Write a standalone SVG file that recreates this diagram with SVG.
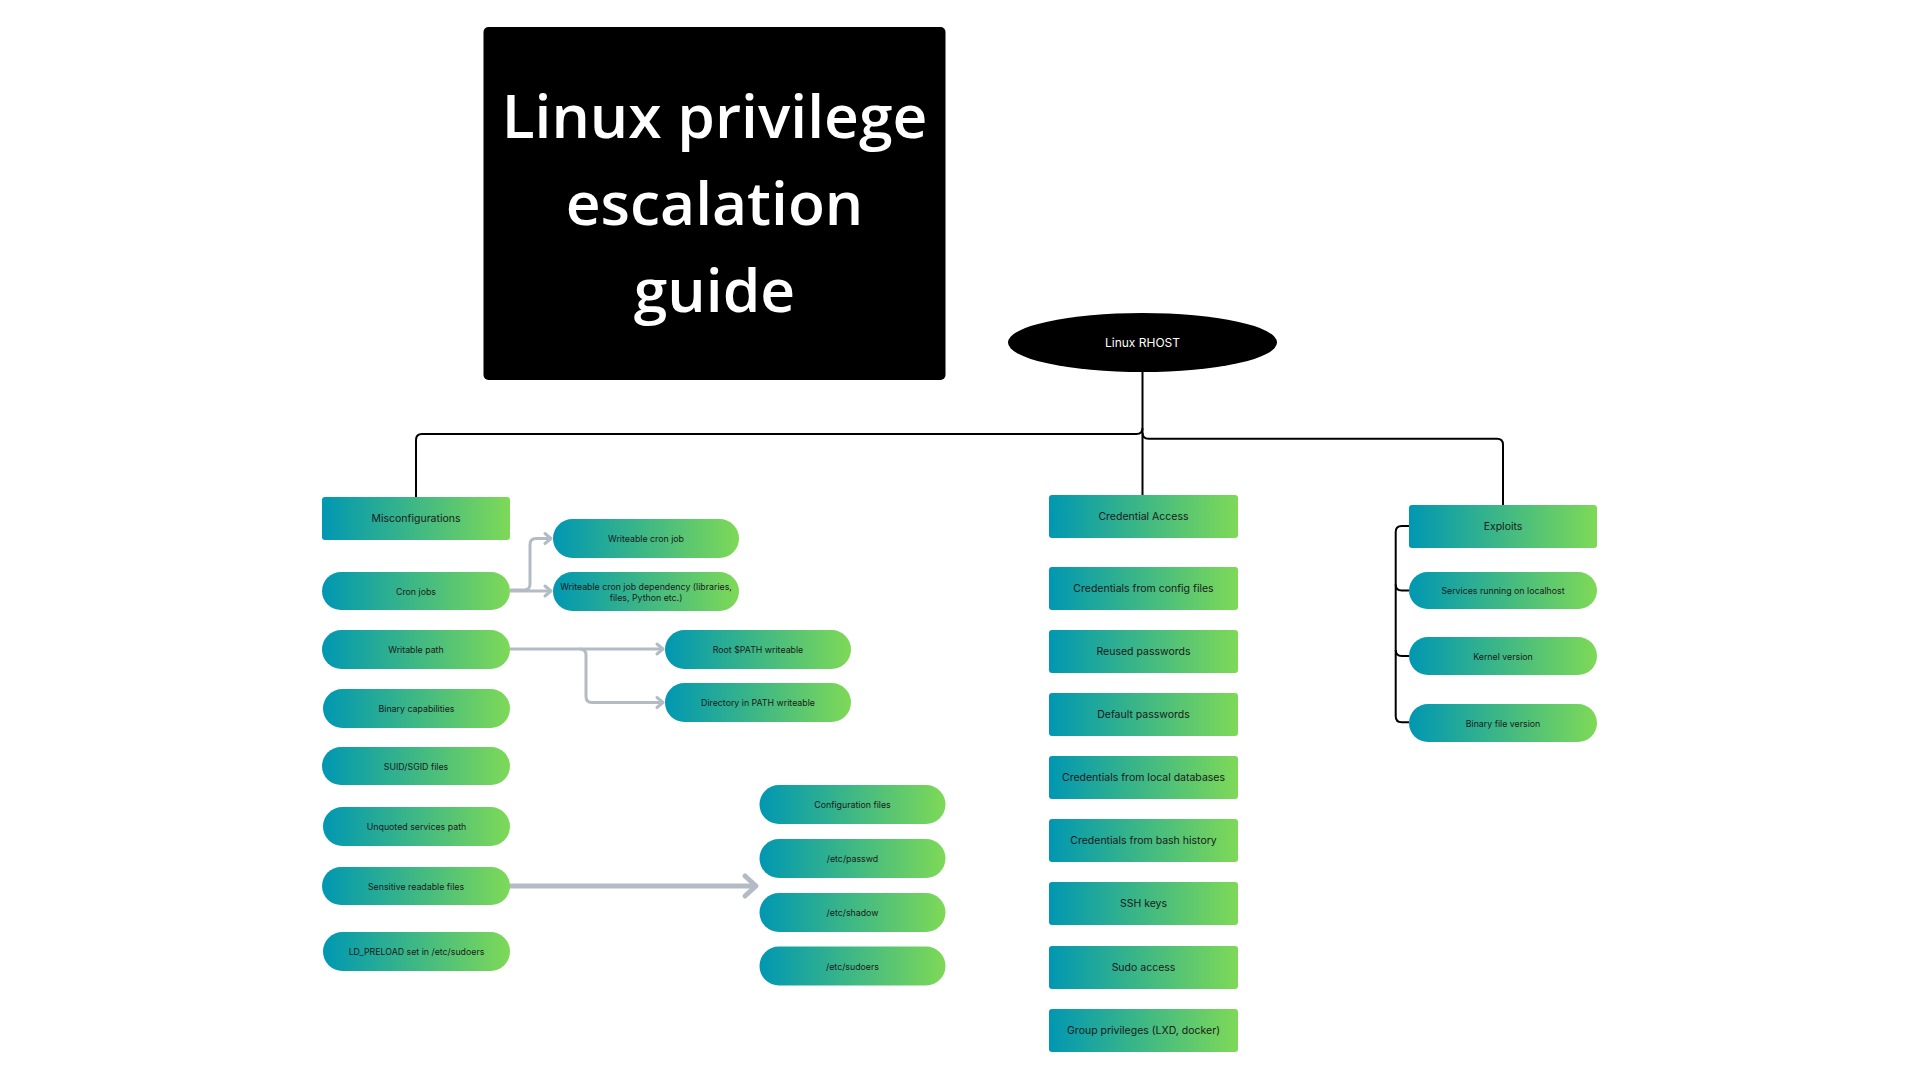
<svg xmlns="http://www.w3.org/2000/svg" width="1920" height="1080" viewBox="0 0 1920 1080">
<style>
.n{fill:url(#g)}
.t{font-family:Inter,"Liberation Sans",sans-serif;font-size:10.5px;fill:#1a1a1a;text-anchor:middle;dominant-baseline:central}
.s{font-size:8.8px}
.c{fill:none;stroke:#000;stroke-width:2}
.a{fill:none;stroke:#b3bcc4;stroke-width:3;stroke-linejoin:round}
.ab{stroke-width:5}
.title{font-family:"Open Sans","Liberation Sans",sans-serif;font-weight:600;font-size:60.5px;fill:#fff;text-anchor:middle}
</style>
<defs>
<linearGradient id="g" x1="0" y1="0" x2="1" y2="0">
<stop offset="0" stop-color="#0097b2"/>
<stop offset="1" stop-color="#7ed957"/>
</linearGradient>
<marker id="ch" markerUnits="userSpaceOnUse" viewBox="0 0 10 12" markerWidth="10" markerHeight="12" refX="8" refY="6" orient="auto" overflow="visible">
<path d="M2,1 L8,6 L2,11" fill="none" stroke="#b3bcc4" stroke-width="3" stroke-linecap="round" stroke-linejoin="round"/>
</marker>
<marker id="chb" markerUnits="userSpaceOnUse" viewBox="0 0 16 24" markerWidth="16" markerHeight="24" refX="14" refY="12" orient="auto" overflow="visible">
<path d="M3,2 L14,12 L3,22" fill="none" stroke="#b3bcc4" stroke-width="5" stroke-linecap="round" stroke-linejoin="round"/>
</marker>
</defs>
<rect width="1920" height="1080" fill="#fff"/>

<g id="title">
<rect x="483.5" y="27" width="462" height="353" rx="5" fill="#000"/>
<text class="title" x="714.5" y="138">Linux privilege</text>
<text class="title" x="714.5" y="225">escalation</text>
<text class="title" x="714.5" y="312">guide</text>
</g>

<g id="connectors">
<path class="c" d="M1142.5,372 V495"/>
<path class="c" d="M1142.5,428 Q1142.5,434 1136.5,434 H422 Q416,434 416,440 V497"/>
<path class="c" d="M1142.5,432.7 Q1142.5,438.7 1148.5,438.7 H1497 Q1503,438.7 1503,444.7 V505"/>
<path class="c" d="M1409,526 H1401.7 Q1395.7,526 1395.7,532 V716.3 Q1395.7,722.3 1401.7,722.3 H1409"/>
<path class="c" d="M1395.7,584.5 Q1395.7,590.5 1401.7,590.5 H1409"/>
<path class="c" d="M1395.7,650 Q1395.7,656 1401.7,656 H1409"/>
<path class="a" d="M510,590 H524 Q530,590 530,584 V544.5 Q530,538.5 536,538.5 H551" marker-end="url(#ch)"/>
<path class="a" d="M510,591 H551" marker-end="url(#ch)"/>
<path class="a" d="M510,649 H663" marker-end="url(#ch)"/>
<path class="a" d="M580,649 Q586,649 586,655 V696.5 Q586,702.5 592,702.5 H663" marker-end="url(#ch)"/>
<path class="a ab" d="M509,886 H756" marker-end="url(#chb)"/>
</g>

<g id="root">
<ellipse cx="1142.5" cy="342.5" rx="134.5" ry="29.5" fill="#000"/>
<text class="t" x="1142.5" y="342.5" style="fill:#fff;font-size:12px">Linux RHOST</text>
</g>

<g id="misconfigurations"><rect class="n" x="322" y="497" width="188" height="43" rx="3"/><text class="t" x="416" y="518.5">Misconfigurations</text></g>
<g id="cron-jobs"><rect class="n" x="322" y="572" width="188" height="38" rx="19"/><text class="t s" x="416" y="591">Cron jobs</text></g>
<g id="writable-path"><rect class="n" x="322" y="630" width="188" height="39" rx="19.5"/><text class="t s" x="416" y="649.5">Writable path</text></g>
<g id="binary-capabilities"><rect class="n" x="323" y="689" width="187" height="39" rx="19.5"/><text class="t s" x="416.5" y="708.5">Binary capabilities</text></g>
<g id="suid-sgid"><rect class="n" x="322" y="747" width="188" height="38" rx="19"/><text class="t s" x="416" y="766">SUID/SGID files</text></g>
<g id="unquoted"><rect class="n" x="323" y="807" width="187" height="39" rx="19.5"/><text class="t s" x="416.5" y="826.5">Unquoted services path</text></g>
<g id="sensitive"><rect class="n" x="322" y="867" width="188" height="38" rx="19"/><text class="t s" x="416" y="886">Sensitive readable files</text></g>
<g id="ld-preload"><rect class="n" x="323" y="932" width="187" height="39" rx="19.5"/><text class="t s" x="416.5" y="951.5">LD_PRELOAD set in /etc/sudoers</text></g>

<g id="writeable-cron-job"><rect class="n" x="553" y="519" width="186" height="39" rx="19.5"/><text class="t s" x="646" y="538.5">Writeable cron job</text></g>
<g id="cron-dependency"><rect class="n" x="553" y="572" width="186" height="39" rx="19.5"/><text class="t s" x="646" y="586">Writeable cron job dependency (libraries,</text><text class="t s" x="646" y="597">files, Python etc.)</text></g>
<g id="root-path"><rect class="n" x="665" y="630" width="186" height="39" rx="19.5"/><text class="t s" x="758" y="649.5">Root $PATH writeable</text></g>
<g id="dir-in-path"><rect class="n" x="665" y="683" width="186" height="39" rx="19.5"/><text class="t s" x="758" y="702.5">Directory in PATH writeable</text></g>

<g id="configuration-files"><rect class="n" x="759.5" y="785" width="186" height="39" rx="19.5"/><text class="t s" x="852.5" y="804.5">Configuration files</text></g>
<g id="etc-passwd"><rect class="n" x="759.5" y="839" width="186" height="39" rx="19.5"/><text class="t s" x="852.5" y="858.5">/etc/passwd</text></g>
<g id="etc-shadow"><rect class="n" x="759.5" y="893" width="186" height="39" rx="19.5"/><text class="t s" x="852.5" y="912.5">/etc/shadow</text></g>
<g id="etc-sudoers"><rect class="n" x="759.5" y="946.5" width="186" height="39" rx="19.5"/><text class="t s" x="852.5" y="966">/etc/sudoers</text></g>

<g id="credential-access"><rect class="n" x="1049" y="495" width="189" height="43" rx="3"/><text class="t" x="1143.5" y="516.5">Credential Access</text></g>
<g id="cred-config"><rect class="n" x="1049" y="567" width="189" height="43" rx="3"/><text class="t" x="1143.5" y="588.5">Credentials from config files</text></g>
<g id="reused"><rect class="n" x="1049" y="630" width="189" height="43" rx="3"/><text class="t" x="1143.5" y="651.5">Reused passwords</text></g>
<g id="default"><rect class="n" x="1049" y="693" width="189" height="43" rx="3"/><text class="t" x="1143.5" y="714.5">Default passwords</text></g>
<g id="local-db"><rect class="n" x="1049" y="756" width="189" height="43" rx="3"/><text class="t" x="1143.5" y="777.5">Credentials from local databases</text></g>
<g id="bash-history"><rect class="n" x="1049" y="819" width="189" height="43" rx="3"/><text class="t" x="1143.5" y="840.5">Credentials from bash history</text></g>
<g id="ssh-keys"><rect class="n" x="1049" y="882" width="189" height="43" rx="3"/><text class="t" x="1143.5" y="903.5">SSH keys</text></g>
<g id="sudo-access"><rect class="n" x="1049" y="946" width="189" height="43" rx="3"/><text class="t" x="1143.5" y="967.5">Sudo access</text></g>
<g id="group-privileges"><rect class="n" x="1049" y="1009" width="189" height="43" rx="3"/><text class="t" x="1143.5" y="1030.5">Group privileges (LXD, docker)</text></g>

<g id="exploits"><rect class="n" x="1409" y="505" width="188" height="43" rx="3"/><text class="t" x="1503" y="526.5">Exploits</text></g>
<g id="services-localhost"><rect class="n" x="1409" y="572" width="188" height="37" rx="18.5"/><text class="t s" x="1503" y="590.5">Services running on localhost</text></g>
<g id="kernel-version"><rect class="n" x="1409" y="637" width="188" height="38" rx="19"/><text class="t s" x="1503" y="656">Kernel version</text></g>
<g id="binary-file-version"><rect class="n" x="1409" y="704" width="188" height="38" rx="19"/><text class="t s" x="1503" y="723">Binary file version</text></g>
</svg>
